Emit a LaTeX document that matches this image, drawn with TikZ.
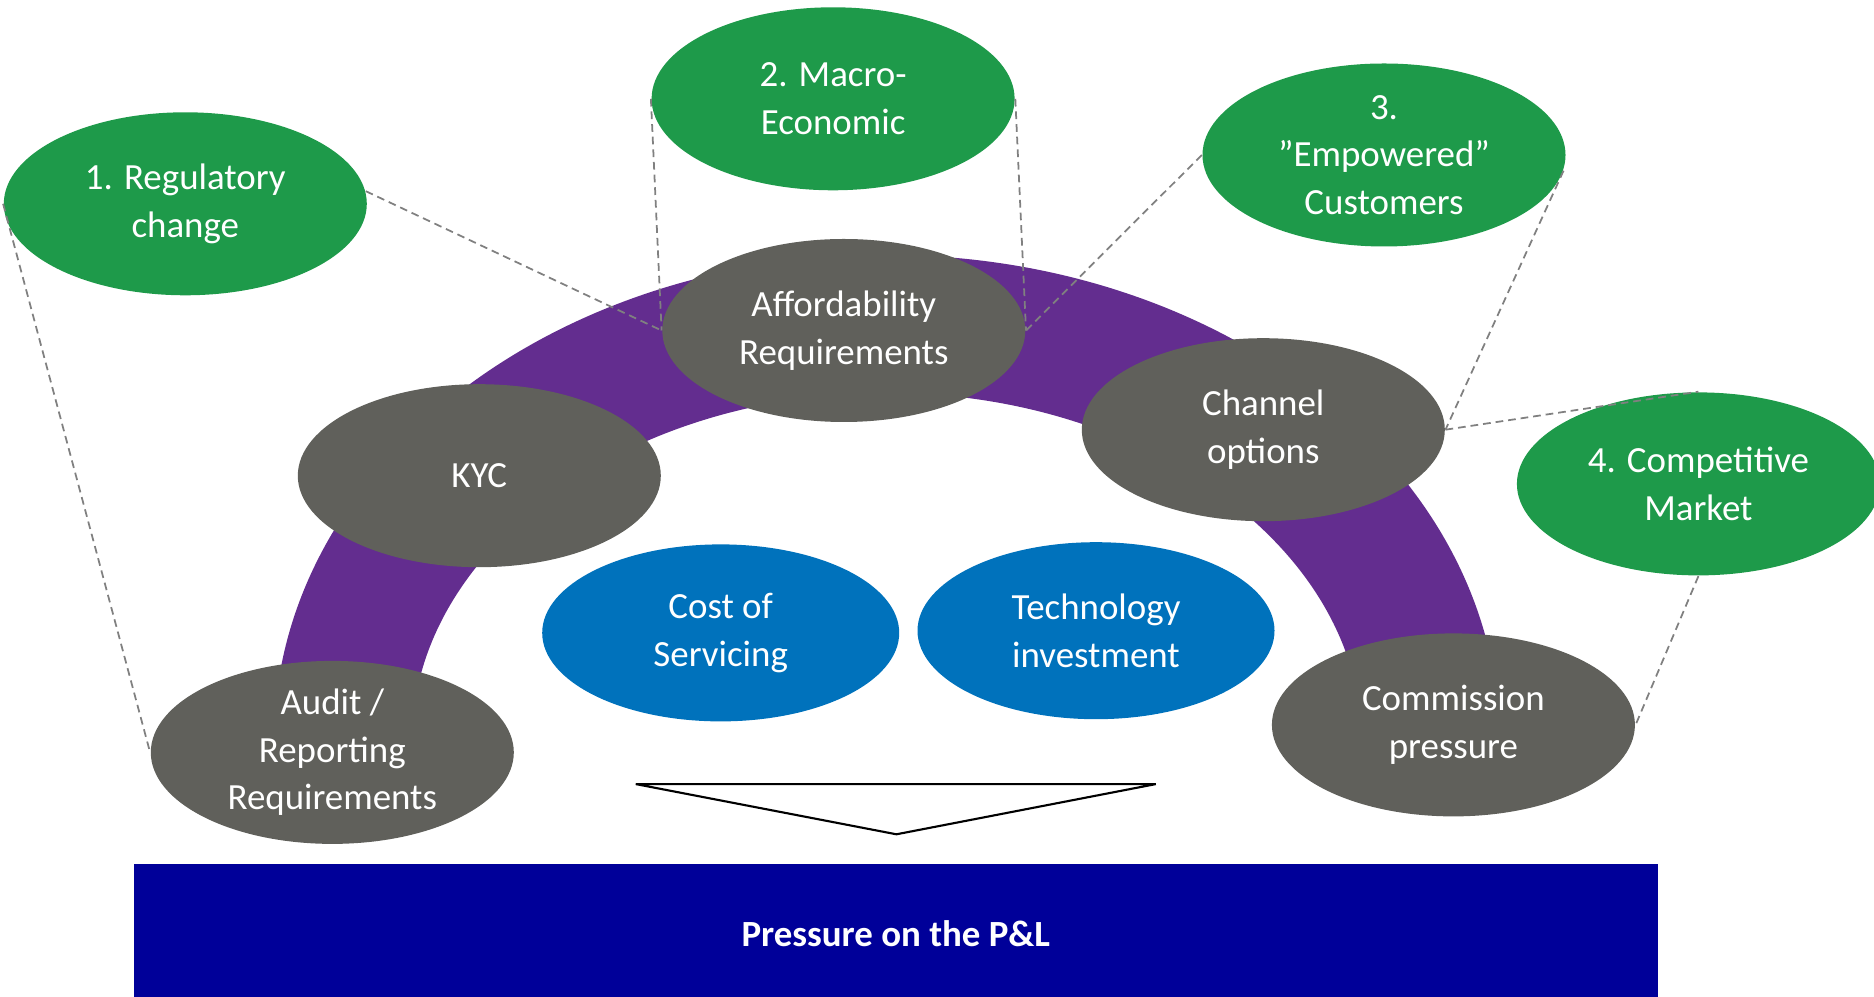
\documentclass[tikz,border=0pt]{standalone}
\usepackage{fontspec}
\setmainfont{Carlito}
\usepackage{tikz}
\usetikzlibrary{shapes.geometric}

\definecolor{drvgreen}{RGB}{30,154,74}
\definecolor{drvgray}{RGB}{96,96,91}
\definecolor{archpurple}{RGB}{99,45,143}
\definecolor{costblue}{RGB}{0,114,188}
\definecolor{plblue}{RGB}{0,0,153}
\definecolor{linkgray}{RGB}{128,128,128}

\begin{document}
\begin{tikzpicture}[
  every node/.style={font=\fontsize{10.5}{13.5}\selectfont, text=white, align=center},
  bubble/.style={ellipse, minimum width=3.63cm, minimum height=1.83cm, inner sep=0pt},
  driver/.style={bubble, fill=drvgreen},
  factor/.style={bubble, fill=drvgray},
  cost/.style={bubble, fill=costblue, minimum width=3.57cm, minimum height=1.77cm},
  link/.style={draw=linkgray, line width=0.5pt, dash pattern=on 2.2pt off 1.4pt}
]
\useasboundingbox (0,0) rectangle (18.74,9.96);

% the arch
\draw[archpurple, line width=1.38cm] (3.43,2.55) arc[start angle=180, end angle=0, x radius=5.438, y radius=4.171];

\node [factor] (KYC) at (4.793, 5.203) {KYC};
\node [factor] (AR) at (8.438, 6.655) {Affordability\\Requirements};
\node [factor] (CO) at (12.633, 5.663) {Channel\\options};
\node [factor] (AU) at (3.323, 2.436) {Audit /\\Reporting\\Requirements};
\node [factor] (CP) at (14.534, 2.711) {Commission\\pressure};

\node [cost] (CS) at (7.207, 3.631) {Cost of\\Servicing};
\node [cost] (TI) at (10.960, 3.653) {Technology\\investment};

\node [driver] (G1) at (1.853, 7.922) {1. Regulatory\\change};
\node [driver] (G2) at (8.331, 8.972) {2. Macro-\\Economic};
\node [driver] (G3) at (13.840, 8.410) {3.\\”Empowered”\\Customers};
\node [driver] (G4) at (16.984, 5.121) {4. Competitive\\Market};

% drivers onto the arch
\draw[link] (G1.4) -- (AR.west);
\draw[link] (G1.west) -- (AU.west);
\draw[link] (G2.west) -- (AR.west);
\draw[link] (G2.east) -- (AR.east);
\draw[link] (G3.west) -- (AR.east);
\draw[link] (G3.-5) -- (CO.east);
\draw[link] (CO.east) -- (G4.north);
\draw[link] (G4.south) -- (CP.east);

\draw[fill=white, line width=0.6pt] (6.358,2.119) -- (11.558,2.119) -- (8.964,1.617) -- cycle;

\node [fill=plblue, minimum width=15.24cm, minimum height=1.4cm, font=\fontsize{10.5}{13.5}\selectfont\bfseries] (PL) at (8.958, 0.62) {Pressure on the P\&L};
\end{tikzpicture}
\end{document}
